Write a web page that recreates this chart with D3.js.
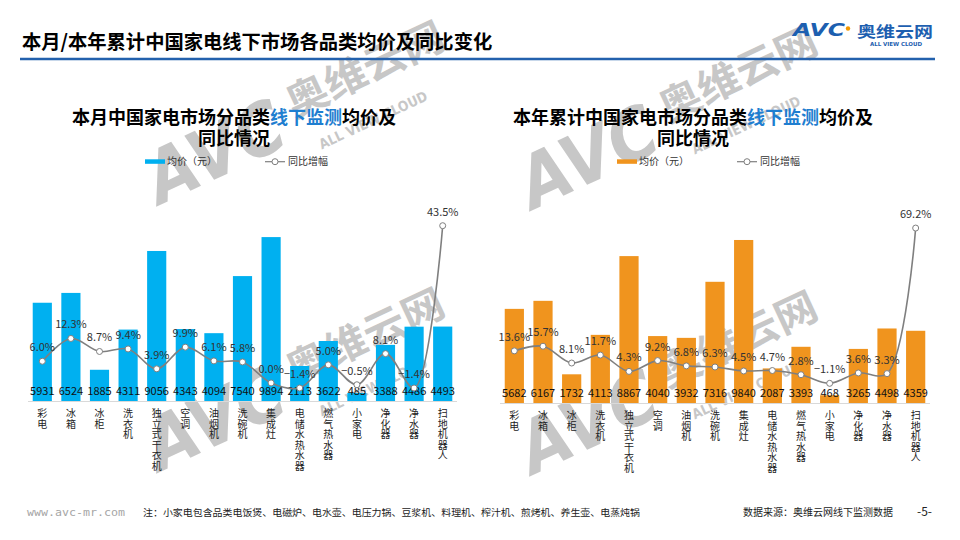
<!DOCTYPE html>
<html>
<head>
<meta charset="utf-8">
<script src="https://cdn.jsdelivr.net/npm/d3@7/dist/d3.min.js"></script>
<style>
  html, body { margin: 0; padding: 0; background: #fff; }
  svg { display: block; font-family: "Noto Sans CJK SC", "Noto Sans", sans-serif; }
</style>
</head>
<body>
<svg id="chart" width="960" height="540"></svg>
<script>
const categories = ["彩电","冰箱","冰柜","洗衣机","独立式干衣机","空调","油烟机","洗碗机","集成灶","电储水热水器","燃气热水器","小家电","净化器","净水器","扫地机器人"];
const monthPrice = [5931,6524,1885,4311,9056,4343,4094,7540,9894,2113,3622,485,3388,4486,4493];
const monthYoY   = [6.0,12.3,8.7,9.4,3.9,9.9,6.1,5.8,0.0,-1.4,5.0,-0.5,8.1,-1.4,43.5];
const yearPrice  = [5682,6167,1732,4113,8867,4040,3932,7316,9840,2087,3393,468,3265,4498,4359];
const yearYoY    = [13.6,15.7,8.1,11.7,4.3,9.2,6.8,6.3,4.5,4.7,2.8,-1.1,3.6,3.3,69.2];

const mainTitle = "本月/本年累计中国家电线下市场各品类均价及同比变化";
const leftTitle = ["本月中国家电市场分品类", "线下监测", "均价及"];
const rightTitle = ["本年累计中国家电市场分品类", "线下监测", "均价及"];
const titleLine2 = "同比情况";
const legendBar = "均价（元）";
const legendLine = "同比增幅";
const footNote = "注：小家电包含品类电饭煲、电磁炉、电水壶、电压力锅、豆浆机、料理机、榨汁机、煎烤机、养生壶、电蒸炖锅";
const source = "数据来源：奥维云网线下监测数据";
const site = "www.avc-mr.com";
const pageNo = "-5-";

const svg = d3.select("#chart");

// watermarks (drawn first, behind content)
const wmLayer = svg.append("g");
function watermark(px, py) {
  const w = wmLayer.append("g").attr("transform", `translate(${px},${py}) rotate(-25)`)
    .attr("fill", "#9a9a9a").attr("opacity", 0.55).style("pointer-events", "none");
  w.append("text").attr("x", 0).attr("y", 0).attr("font-size", 72).attr("font-weight", "bold")
    .attr("font-style", "italic").attr("font-family", "DejaVu Sans")
    .attr("textLength", 145).attr("lengthAdjust", "spacingAndGlyphs").text("AVC");
  w.append("text").attr("x", 158).attr("y", -22).attr("font-size", 40).attr("font-weight", "bold")
    .attr("textLength", 170).attr("lengthAdjust", "spacingAndGlyphs").text("奥维云网");
  w.append("text").attr("x", 170).attr("y", 18).attr("font-size", 14).attr("font-weight", "bold")
    .attr("font-family", "DejaVu Sans").attr("textLength", 118).attr("lengthAdjust", "spacingAndGlyphs").text("ALL VIEW CLOUD");
}
watermark(160, 205);
watermark(160, 472);
watermark(533, 210);
watermark(533, 475);

// Header
svg.append("text").attr("x", 22).attr("y", 49).attr("font-size", 19.3).attr("font-weight", "bold")
  .attr("fill", "#000").text(mainTitle);
svg.append("line").attr("x1", 20).attr("x2", 935).attr("y1", 59).attr("y2", 59)
  .attr("stroke", "#2361ad").attr("stroke-width", 2.5);

// Logo
const logo = svg.append("g").attr("fill", "#1d5fb0");
logo.append("text").attr("x", 793).attr("y", 35.5).attr("font-size", 17).attr("font-weight", "bold")
  .attr("font-style", "italic").attr("font-family", "DejaVu Sans")
  .attr("textLength", 52).attr("lengthAdjust", "spacingAndGlyphs").text("AVC");
svg.append("circle").attr("cx", 848).attr("cy", 28.5).attr("r", 2.2).attr("fill", "#f39800");
logo.append("text").attr("x", 857).attr("y", 36.5).attr("font-size", 15).attr("font-weight", "bold")
  .attr("textLength", 76).attr("lengthAdjust", "spacingAndGlyphs").text("奥维云网");
logo.append("text").attr("x", 870).attr("y", 45.5).attr("font-size", 5.5).attr("font-weight", "bold")
  .attr("font-family", "DejaVu Sans").attr("textLength", 52).attr("lengthAdjust", "spacing").text("ALL VIEW CLOUD");

function drawChart(opt) {
  const x = d3.scaleBand().domain(categories).range([opt.x0, opt.x1]).paddingInner(0.33).paddingOuter(0.165);
  const y = d3.scaleLinear().domain([0, 12000]).range([opt.base, opt.base - 198.8]);
  const y2 = d3.scaleLinear().domain(opt.pctDomain).range([opt.base, opt.base - 198.8]);
  const g = svg.append("g");
  const cx = c => x(c) + x.bandwidth() / 2;

  // two-line title in one text element
  const t1 = g.append("text").attr("x", opt.titleCx).attr("y", 123.5).attr("text-anchor", "middle")
    .attr("font-size", 18).attr("font-weight", "bold").attr("fill", "#000");
  t1.append("tspan").text(opt.title[0]);
  t1.append("tspan").attr("fill", "#1f7ed0").text(opt.title[1]);
  t1.append("tspan").text(opt.title[2]);
  t1.append("tspan").attr("x", opt.titleCx).attr("dy", 21.5).text(titleLine2);

  // legend
  g.append("rect").attr("x", opt.legX).attr("y", 159.3).attr("width", 20).attr("height", 4.5).attr("fill", opt.color);
  g.append("text").attr("x", opt.legX + 22).attr("y", 165.3).attr("font-size", 10).attr("fill", "#333").text(legendBar);
  g.append("line").attr("x1", opt.legX + 120).attr("x2", opt.legX + 140).attr("y1", 161.7).attr("y2", 161.7)
    .attr("stroke", "#7f7f7f").attr("stroke-width", 1.2);
  g.append("circle").attr("cx", opt.legX + 130).attr("cy", 161.7).attr("r", 3)
    .attr("fill", "#fff").attr("stroke", "#7f7f7f").attr("stroke-width", 1);
  g.append("text").attr("x", opt.legX + 143).attr("y", 165.3).attr("font-size", 10).attr("fill", "#333").text(legendLine);

  // axis line
  g.append("line").attr("x1", opt.x0).attr("x2", opt.x1).attr("y1", opt.base + 0.5).attr("y2", opt.base + 0.5)
    .attr("stroke", "#d9d9d9").attr("stroke-width", 1);

  // bars
  g.selectAll("rect.bar").data(categories).join("rect").attr("class", "bar")
    .attr("x", c => x(c)).attr("width", x.bandwidth())
    .attr("y", (c, i) => y(opt.price[i])).attr("height", (c, i) => opt.base - y(opt.price[i]))
    .attr("fill", opt.color);

  // value labels
  g.selectAll("text.val").data(categories).join("text").attr("class", "val")
    .attr("x", cx).attr("y", opt.base - 6.5).attr("text-anchor", "middle")
    .attr("font-size", 11).attr("fill", "#111")
    .text((c, i) => opt.price[i]);

  // line
  const pts = categories.map((c, i) => [cx(c), y2(opt.pct[i])]);
  g.append("path").attr("d", d3.line().curve(d3.curveCatmullRom.alpha(0.5))(pts))
    .attr("fill", "none").attr("stroke", "#7f7f7f").attr("stroke-width", 1.6);
  g.selectAll("circle.pt").data(pts).join("circle").attr("class", "pt")
    .attr("cx", d => d[0]).attr("cy", d => d[1]).attr("r", 3)
    .attr("fill", "#fff").attr("stroke", "#7f7f7f").attr("stroke-width", 1);

  // pct labels
  g.selectAll("text.pct").data(categories).join("text").attr("class", "pct")
    .attr("x", cx).attr("y", (c, i) => y2(opt.pct[i]) - 10).attr("text-anchor", "middle")
    .attr("font-size", 11).attr("fill", "#333")
    .text((c, i) => d3.format(".1f")(opt.pct[i]).replace("-", "−") + "%");

  // category labels (vertical, stacked characters)
  g.selectAll("text.cat").data(categories).join("text").attr("class", "cat")
    .attr("x", cx).attr("y", opt.base + 7.5)
    .attr("writing-mode", "tb")
    .style("writing-mode", "vertical-rl")
    .style("letter-spacing", "0.5px")
    .attr("font-size", 10).attr("fill", "#222")
    .text(c => c);
}

drawChart({ x0: 28, x1: 457, base: 401, pctDomain: [-5, 50], price: monthPrice, pct: monthYoY,
  color: "#00b0f0", title: leftTitle, titleCx: 234, legX: 145 });
drawChart({ x0: 500, x1: 930, base: 403, pctDomain: [-10, 80], price: yearPrice, pct: yearYoY,
  color: "#f0941e", title: rightTitle, titleCx: 693, legX: 617 });

// footer
svg.append("text").attr("x", 27).attr("y", 515.5).attr("font-size", 10).attr("fill", "#a6a6a6")
  .attr("font-family", "DejaVu Sans Mono").attr("textLength", 98).attr("lengthAdjust", "spacingAndGlyphs").text(site);
svg.append("text").attr("x", 143).attr("y", 515.5).attr("font-size", 9.5).attr("fill", "#222")
  .attr("textLength", 497).attr("lengthAdjust", "spacingAndGlyphs").text(footNote);
svg.append("text").attr("x", 743).attr("y", 515.5).attr("font-size", 10).attr("fill", "#222").text(source);
svg.append("text").attr("x", 917).attr("y", 516).attr("font-size", 12).attr("fill", "#222").text(pageNo);
</script>
</body>
</html>
